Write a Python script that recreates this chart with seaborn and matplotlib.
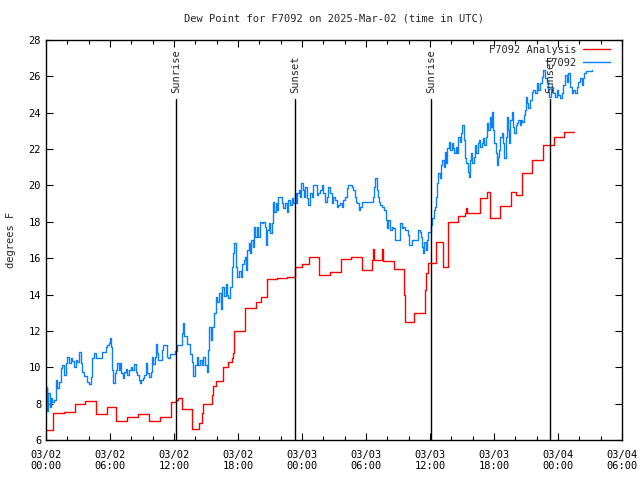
#!/usr/bin/env python3
import matplotlib
matplotlib.use("Agg")
import matplotlib.pyplot as plt
import numpy as np
import pandas as pd
import seaborn as sns

# Station obs (F7092), hours since 03/02 00:00 UTC
obs_hours = [
    0.0, 0.06, 0.125, 0.22, 0.375, 0.5, 0.6, 0.75, 0.9, 1.06, 1.22, 1.375, 1.53, 1.69, 1.84,
    2.0, 2.16, 2.31, 2.47, 2.63, 2.78, 2.94, 3.09, 3.25, 3.41, 3.56, 3.72, 3.88, 4.03, 4.19,
    4.34, 4.5, 4.66, 4.97, 5.13, 5.28, 5.44, 5.59, 5.75, 5.91, 6.0, 6.13, 6.22, 6.31, 6.44,
    6.53, 6.69, 6.84, 6.94, 7.06, 7.19, 7.31, 7.47, 7.63, 7.78, 7.94, 8.09, 8.25, 8.41, 8.56,
    8.72, 8.81, 8.94, 9.06, 9.19, 9.34, 9.5, 9.66, 9.81, 9.97,
    10.06, 10.22, 10.31, 10.44, 10.53, 10.84, 11.0, 11.31, 11.47, 11.62, 12.09, 12.25, 12.56,
    12.72, 12.81, 12.94, 13.19, 13.5, 13.66, 13.75, 13.97, 14.12, 14.28, 14.44, 14.59, 14.75,
    14.9, 15.06, 15.16, 15.31, 15.44, 15.59, 15.75, 15.9, 16.06, 16.22, 16.37, 16.53, 16.69,
    16.84, 16.94, 17.09, 17.25, 17.41, 17.5, 17.62, 17.81, 17.94, 18.09, 18.25, 18.41, 18.56,
    18.66, 18.75, 18.88, 19.0, 19.13, 19.25, 19.38, 19.5, 19.63, 19.75, 19.91, 20.06, 20.22,
    20.38, 20.53, 20.63, 20.75, 20.88, 21.0, 21.16, 21.31, 21.41, 21.53, 21.63, 21.78, 21.94,
    22.1, 22.25, 22.41, 22.56, 22.72, 22.88, 23.03, 23.19, 23.35, 23.44, 23.56, 23.69, 23.81,
    23.94, 24.06, 24.19, 24.31, 24.44, 24.6, 24.75, 24.91, 25.06, 25.22, 25.38, 25.53, 25.69,
    25.85, 26.0, 26.16, 26.31, 26.47, 26.63, 26.78, 26.94, 27.1, 27.25, 27.41, 27.56, 27.72,
    27.87, 28.03, 28.18, 28.34, 28.5, 28.65, 28.81, 28.97, 29.06, 29.18, 29.34, 29.43, 29.59,
    30.53, 30.68, 30.78, 30.87, 31.0, 31.09, 31.22, 31.34, 31.53, 31.72, 31.84, 31.97, 32.09,
    32.25, 32.4, 32.56, 32.72, 33.03, 33.18, 33.34, 33.5, 33.65, 33.9, 34.03, 34.34, 34.75,
    34.9, 35.06, 35.15, 35.25, 35.34, 35.47, 35.59, 35.68, 35.84, 36.09, 36.22, 36.34, 36.47,
    36.56, 36.66, 36.78, 36.94, 37.03, 37.15, 37.28, 37.4, 37.53, 37.62, 37.78, 37.9, 38.03,
    38.15, 38.28, 38.4, 38.53, 38.65, 38.78, 38.9, 39.03, 39.15, 39.28, 39.4, 39.53, 39.62,
    39.75, 39.84, 39.97, 40.09, 40.22, 40.34, 40.47, 40.59, 40.72, 40.84, 40.97, 41.09, 41.22,
    41.34, 41.47, 41.59, 41.72, 41.84, 41.94, 42.03, 42.15, 42.25, 42.34, 42.47, 42.59, 42.72,
    42.84, 42.97, 43.09, 43.19, 43.28, 43.4, 43.53, 43.65, 43.78, 43.9, 44.03, 44.15, 44.28,
    44.4, 44.53, 44.65, 44.78, 44.9, 45.0, 45.06, 45.22, 45.38, 45.53, 45.69, 45.84, 46.0,
    46.16, 46.31, 46.47, 46.63, 46.78, 46.94, 47.09, 47.19, 47.31, 47.44, 47.56, 47.72, 47.88,
    48.03, 48.19, 48.34, 48.5, 48.66, 48.81, 48.97, 49.13, 49.28, 49.44, 49.59, 49.75, 49.91,
    50.06, 50.22, 50.31, 50.44, 50.63, 51.16,
]
obs_dewpt = [
    8.0, 8.9, 7.6, 8.6, 7.8, 8.3, 8.1, 8.2, 9.3, 8.84, 9.21, 9.94, 10.13, 9.58, 10.22,
    10.55, 10.22, 10.49, 10.36, 10.03, 10.4, 10.31, 10.86, 10.22, 9.76, 9.52, 9.52, 9.21, 9.08, 9.48,
    10.49, 10.77, 10.49, 10.49, 10.49, 10.82, 10.82, 11.1, 11.23, 11.32, 11.6, 11.13, 9.85, 9.12, 9.67,
    9.85, 10.22, 9.85, 10.22, 9.67, 9.39, 9.76, 9.89, 9.58, 9.85, 10.03, 9.85, 10.16, 9.76, 9.58,
    9.3, 9.12, 9.3, 9.39, 9.58, 10.22, 9.67, 9.48, 9.76, 10.58,
    10.2, 10.58, 11.3, 10.8, 10.4, 10.95, 11.2, 10.58, 10.5, 10.75, 10.9, 11.24, 11.24,
    11.87, 12.42, 11.7, 11.3, 10.75, 10.3, 9.5, 10.1, 10.58, 10.1, 10.4, 10.1, 10.58,
    10.1, 9.76, 10.95, 12.23, 11.5, 12.23, 12.97, 13.88, 13.6, 14.1, 13.2, 14.43, 13.9,
    14.6, 14.0, 13.8, 14.4, 15.53, 16.27, 16.82, 15.5, 14.98, 15.3, 14.98, 15.7, 15.9,
    16.08, 15.35, 16.45, 16.82, 16.27, 17.0, 16.63, 17.73, 17.18, 17.73, 17.18, 18.01, 17.92,
    18.01, 17.73, 16.73, 17.55, 17.92, 17.37, 17.92, 19.11, 18.56, 19.02, 18.65, 19.38, 19.38,
    19.02, 18.74, 19.02, 18.56, 19.2, 18.93, 19.29, 19.02, 19.57, 19.02, 19.57, 19.75, 19.38,
    20.12, 19.75, 19.38, 19.93, 19.29, 18.93, 19.57, 19.38, 20.03, 20.03, 19.48, 19.57, 19.75,
    20.03, 19.57, 19.11, 19.38, 19.93, 19.57, 19.02, 19.38, 19.2, 18.83, 18.93, 19.02, 18.83,
    19.2, 19.38, 19.84, 20.03, 20.03, 19.93, 19.75, 19.38, 19.11, 19.02, 18.65, 18.83, 19.11,
    19.11, 19.38, 19.93, 20.39, 19.75, 19.38, 19.11, 18.93, 18.83, 18.65, 18.1, 17.64, 18.1,
    17.55, 17.73, 17.64, 17.0, 17.0, 17.92, 17.64, 17.73, 17.55, 17.28, 16.73, 17.0, 17.0,
    17.55, 17.46, 17.18, 16.63, 16.27, 16.91, 16.45, 17.0, 17.46, 17.83, 18.19, 18.65, 18.83,
    19.38, 20.12, 20.67, 20.39, 21.13, 21.4, 21.03, 21.86, 21.22, 22.04, 22.41, 21.95, 22.32,
    22.04, 21.77, 22.13, 21.77, 22.68, 22.41, 22.87, 23.33, 22.5, 21.49, 21.22, 20.76, 20.48,
    21.4, 21.77, 21.22, 21.58, 22.23, 21.77, 22.32, 22.5, 22.13, 22.32, 22.59, 22.23, 22.68,
    23.42, 23.05, 23.78, 23.23, 24.06, 23.05, 22.32, 21.77, 21.13, 21.58, 21.95, 22.68, 22.87,
    22.32, 21.49, 22.68, 23.78, 23.05, 22.32, 23.6, 24.06, 23.23, 22.87, 23.33, 23.42, 23.6,
    23.33, 23.6, 23.51, 23.88, 24.15, 24.88, 24.52, 24.24, 24.7, 25.16, 25.25, 25.07, 25.62,
    25.25, 25.62, 25.98, 26.35, 25.89, 25.71, 25.16, 24.88, 25.25, 25.43, 25.07, 24.88, 25.25,
    24.98, 24.79, 25.07, 25.53, 26.08, 25.71, 26.17, 25.43, 25.07, 25.25, 25.07, 25.43, 25.71,
    25.89, 25.53, 25.89, 26.17, 26.31, 26.35,
]

# Analysis (hourly steps)
ana_hours = [
    0.0, 0.69, 1.69, 2.69, 3.66, 4.69, 5.69, 6.6, 7.6, 8.66, 9.66, 10.66, 11.69, 11.75,
    12.16, 12.4, 12.75, 13.72, 14.37, 14.66, 14.75, 15.59, 15.65, 15.9, 16.6, 17.1, 17.4,
    17.55, 17.65, 18.65, 19.7, 20.2, 20.7, 21.7, 22.6, 23.35, 23.97, 24.66, 25.63, 26.63,
    27.65, 28.59, 29.59, 30.59, 30.65, 30.72, 31.47, 31.62, 32.65, 33.59, 33.65, 34.53,
    35.53, 35.6, 35.84, 36.6, 37.25, 37.65, 38.6, 39.3, 39.4, 39.5, 40.7, 41.3, 41.6, 42.6,
    43.6, 44.1, 44.62, 45.6, 46.6, 47.6, 48.56, 49.5,
]
ana_dewpt = [
    6.55, 7.47, 7.52, 7.98, 8.15, 7.41, 7.8, 7.05, 7.28, 7.41, 7.05, 7.28, 7.61, 8.1,
    8.2, 8.3, 7.7, 6.6, 6.93, 7.47, 7.98, 8.47, 8.97, 9.24, 10.03, 10.3, 10.5,
    10.77, 12.0, 13.24, 13.6, 13.88, 14.85, 14.9, 14.95, 15.53, 15.68, 16.05, 15.08, 15.24,
    15.94, 16.05, 15.35, 15.9, 16.49, 15.9, 16.49, 15.85, 15.39, 13.98, 12.51, 12.97,
    14.25, 15.17, 15.72, 16.87, 15.53, 18.0, 18.34, 18.47, 18.75, 18.47, 19.3, 19.62, 18.23, 18.89,
    19.62, 19.5, 20.67, 21.4, 22.22, 22.65, 22.92, 22.92,
]

sun_hours = [12.19, 23.34, 36.09, 47.25]
sun_labels = ["Sunrise", "Sunset", "Sunrise", "Sunset"]

xtick_hours = list(range(0, 55, 6))
xtick_labels = ["03/02\n00:00", "03/02\n06:00", "03/02\n12:00", "03/02\n18:00",
                "03/03\n00:00", "03/03\n06:00", "03/03\n12:00", "03/03\n18:00",
                "03/04\n00:00", "03/04\n06:00"]

MONO = "DejaVu Sans Mono"
FS = 7.5

sns.set_style("ticks")
plt.rcParams["font.family"] = [MONO, "DejaVu Sans"]

fig = plt.figure(figsize=(6.4, 4.8), dpi=100)
ax = fig.add_axes([46 / 640, 40 / 480, 576 / 640, 400 / 480])

ana_df = pd.DataFrame({"hours": ana_hours, "dewpt": ana_dewpt})
obs_df = pd.DataFrame({"hours": obs_hours, "dewpt": obs_dewpt})

sns.lineplot(data=ana_df, x="hours", y="dewpt", ax=ax, color="#ff0000", lw=1.0,
             drawstyle="steps-post", estimator=None, sort=False, label="F7092 Analysis")
sns.lineplot(data=obs_df, x="hours", y="dewpt", ax=ax, color="#0a80ff", lw=1.0,
             drawstyle="steps-post", estimator=None, sort=False, label="F7092")

# sunrise / sunset markers
for h, lab in zip(sun_hours, sun_labels):
    ax.axvline(h, ymin=0, ymax=0.8525, color="black", lw=1.0)
    ax.text(h, 0.868, lab, transform=ax.get_xaxis_transform(), rotation=90,
            ha="center", va="bottom", fontsize=FS, family=MONO)

ax.set_xlim(0, 54)
ax.set_ylim(6, 28)
ax.set_xticks(xtick_hours)
ax.set_xticklabels(xtick_labels)
ax.set_xticks(np.arange(0, 55, 2), minor=True)
ax.set_yticks(range(6, 29, 2))
ax.tick_params(axis="both", which="both", direction="in", top=True, right=True,
               labelsize=FS, width=0.8, colors="black")
ax.tick_params(axis="both", which="major", length=5)
ax.tick_params(axis="both", which="minor", length=3)
ax.tick_params(axis="x", pad=7)
for sp in ax.spines.values():
    sp.set_color("black")
    sp.set_linewidth(1.0)

ax.set_xlabel("")
ax.set_ylabel("degrees F", fontsize=FS, family=MONO, labelpad=9)
ax.set_title("Dew Point for F7092 on 2025-Mar-02 (time in UTC)", fontsize=FS,
             family=MONO, pad=13)

leg = ax.legend(loc="upper right", bbox_to_anchor=(0.99, 1.003), frameon=False,
                markerfirst=False, fontsize=FS, handlelength=2.6, handletextpad=0.6,
                labelspacing=0.25, borderaxespad=0.2)
for t in leg.get_texts():
    t.set_family(MONO)

fig.savefig("out.png", dpi=100)
